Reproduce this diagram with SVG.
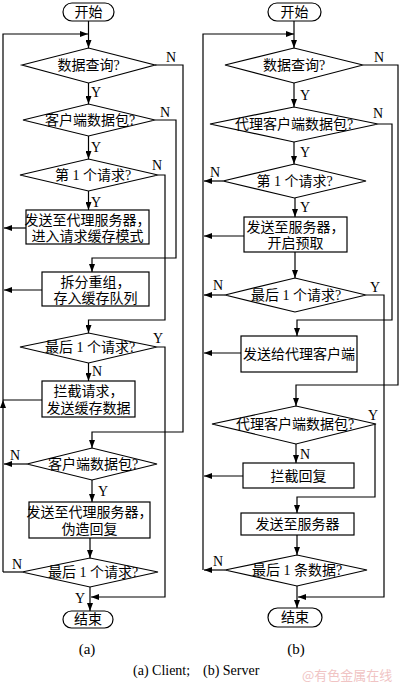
<svg xmlns="http://www.w3.org/2000/svg" width="400" height="683" viewBox="0 0 400 683">
<defs>
<marker id="ar" markerUnits="userSpaceOnUse" markerWidth="8" markerHeight="6" refX="8" refY="3" orient="auto"><path d="M0,0 L8,3 L0,6 z" fill="#000"/></marker>
<style>
.s{fill:#fff;stroke:#000;stroke-width:1.2}
.c{fill:none;stroke:#000;stroke-width:1.2}
.t{font-family:"Liberation Serif","Noto Sans CJK SC",serif;font-size:14px;fill:#000;text-anchor:middle}
.l{font-family:"Liberation Serif",serif;font-size:14px;fill:#000;text-anchor:middle}
</style>
</defs>
<rect width="400" height="683" fill="#fff"/>
<g id="connectors">
<!-- left (a) -->
<path class="c" d="M3,572 V400" marker-end="url(#ar)"/>
<path class="c" d="M3,400 V34 H88" marker-end="url(#ar)"/>
<path class="c" d="M88.5,21 V48" marker-end="url(#ar)"/>
<path class="c" d="M155,65 H183 V432 H92 V448" marker-end="url(#ar)"/>
<path class="c" d="M88.5,83 V104" marker-end="url(#ar)"/>
<path class="c" d="M155,120 H176 V258 H92 V272" marker-end="url(#ar)"/>
<path class="c" d="M88.5,136 V159" marker-end="url(#ar)"/>
<path class="c" d="M158,175 H165 V320 H88.5 V333" marker-end="url(#ar)"/>
<path class="c" d="M88.5,191 V210" marker-end="url(#ar)"/>
<path class="c" d="M26,228 H4" marker-end="url(#ar)"/>
<path class="c" d="M42,290 H4" marker-end="url(#ar)"/>
<path class="c" d="M157,347 H165 V597 H91" marker-end="url(#ar)"/>
<path class="c" d="M88.5,363 V381" marker-end="url(#ar)"/>
<path class="c" d="M42,400 H3"/>
<path class="c" d="M27,464 H4" marker-end="url(#ar)"/>
<path class="c" d="M92,480 V502" marker-end="url(#ar)"/>
<path class="c" d="M90,538 V558" marker-end="url(#ar)"/>
<path class="c" d="M22,572 H3"/>
<path class="c" d="M90,587 V611" marker-end="url(#ar)"/>
<!-- right (b) -->
<path class="c" d="M203,570 V34 H294" marker-end="url(#ar)"/>
<path class="c" d="M294,21 V48" marker-end="url(#ar)"/>
<path class="c" d="M363,65 H398 V385 H296 V406" marker-end="url(#ar)"/>
<path class="c" d="M294,83 V107" marker-end="url(#ar)"/>
<path class="c" d="M378,124 H392 V320 H297 V336" marker-end="url(#ar)"/>
<path class="c" d="M294,142 V164" marker-end="url(#ar)"/>
<path class="c" d="M223,181 H204" marker-end="url(#ar)"/>
<path class="c" d="M295,198 V217" marker-end="url(#ar)"/>
<path class="c" d="M244,236 H204" marker-end="url(#ar)"/>
<path class="c" d="M295,252 V278" marker-end="url(#ar)"/>
<path class="c" d="M225,295 H204" marker-end="url(#ar)"/>
<path class="c" d="M366,295 H384 V597 H298" marker-end="url(#ar)"/>
<path class="c" d="M241,353 H204" marker-end="url(#ar)"/>
<path class="c" d="M375,424 V497 H297 V513" marker-end="url(#ar)"/>
<path class="c" d="M296,444 V463" marker-end="url(#ar)"/>
<path class="c" d="M243,476 H204" marker-end="url(#ar)"/>
<path class="c" d="M297,535 V555" marker-end="url(#ar)"/>
<path class="c" d="M225,570 H204" marker-end="url(#ar)"/>
<path class="c" d="M297,586 V608" marker-end="url(#ar)"/>
</g>
<g id="labels">
<text class="l" x="171" y="62">N</text>
<text class="l" x="96" y="97">Y</text>
<text class="l" x="165" y="117">N</text>
<text class="l" x="96" y="152">Y</text>
<text class="l" x="157" y="170">N</text>
<text class="l" x="96" y="207">Y</text>
<text class="l" x="158" y="343">Y</text>
<text class="l" x="97" y="376">N</text>
<text class="l" x="15" y="460">N</text>
<text class="l" x="103" y="496">Y</text>
<text class="l" x="17" y="569">N</text>
<text class="l" x="80" y="603">Y</text>
<text class="l" x="379" y="62">N</text>
<text class="l" x="305" y="100">Y</text>
<text class="l" x="378" y="118">N</text>
<text class="l" x="305" y="157">Y</text>
<text class="l" x="215" y="177">N</text>
<text class="l" x="305" y="212">Y</text>
<text class="l" x="218" y="290">N</text>
<text class="l" x="375" y="292">Y</text>
<text class="l" x="373" y="420">Y</text>
<text class="l" x="305" y="459">N</text>
<text class="l" x="218" y="566">N</text>
</g>
<g id="a-start"><rect class="s" x="63" y="3" width="51" height="18" rx="9"/><text class="t" x="88.5" y="17">开始</text></g>
<g id="a-d1"><polygon class="s" points="22,65 88.5,48 155,65 88.5,83"/><text class="t" x="88.5" y="70">数据查询?</text></g>
<g id="a-d2"><polygon class="s" points="23,120 88.5,104 155,120 88.5,136"/><text class="t" x="90" y="125">客户端数据包?</text></g>
<g id="a-d3"><polygon class="s" points="20,175 88.5,159 158,175 88.5,191"/><text class="t" x="93" y="180">第 1 个请求?</text></g>
<g id="a-b1"><rect class="s" x="26" y="210" width="123" height="34"/><text class="t" x="87.5" y="225">发送至代理服务器，</text><text class="t" x="87.5" y="241">进入请求缓存模式</text></g>
<g id="a-b2"><rect class="s" x="42" y="272" width="107" height="34"/><text class="t" x="95.5" y="287">拆分重组，</text><text class="t" x="95.5" y="303">存入缓存队列</text></g>
<g id="a-d4"><polygon class="s" points="20,347 88.5,333 157,347 88.5,363"/><text class="t" x="90" y="352">最后 1 个请求?</text></g>
<g id="a-b3"><rect class="s" x="42" y="381" width="93" height="36"/><text class="t" x="88.5" y="396">拦截请求，</text><text class="t" x="88.5" y="413">发送缓存数据</text></g>
<g id="a-d5"><polygon class="s" points="27,464 92,448 157,464 92,480"/><text class="t" x="93" y="469">客户端数据包?</text></g>
<g id="a-b4"><rect class="s" x="29" y="502" width="121" height="36"/><text class="t" x="89.5" y="517">发送至代理服务器，</text><text class="t" x="89.5" y="534">伪造回复</text></g>
<g id="a-d6"><polygon class="s" points="22,572 90,558 158,572 90,587"/><text class="t" x="93" y="577">最后 1 个请求?</text></g>
<g id="a-end"><rect class="s" x="63" y="611" width="50" height="17" rx="8.5"/><text class="t" x="88" y="624">结束</text></g>
<g id="b-start"><rect class="s" x="268" y="3" width="53" height="18" rx="9"/><text class="t" x="294.5" y="17">开始</text></g>
<g id="b-d1"><polygon class="s" points="225,65 294,48 363,65 294,83"/><text class="t" x="294" y="70">数据查询?</text></g>
<g id="b-d2"><polygon class="s" points="210,124 294,107 378,124 294,142"/><text class="t" x="294" y="129">代理客户端数据包?</text></g>
<g id="b-d3"><polygon class="s" points="223,181 294.5,164 366,181 294.5,198"/><text class="t" x="294.5" y="186">第 1 个请求?</text></g>
<g id="b-b1"><rect class="s" x="244" y="217" width="103" height="35"/><text class="t" x="295.5" y="232">发送至服务器，</text><text class="t" x="295.5" y="248">开启预取</text></g>
<g id="b-d4"><polygon class="s" points="225,295 295,278 366,295 295,312"/><text class="t" x="296" y="300">最后 1 个请求?</text></g>
<g id="b-b2"><rect class="s" x="241" y="336" width="116" height="36"/><text class="t" x="299" y="359">发送给代理客户端</text></g>
<g id="b-d5"><polygon class="s" points="212,424 296,406 376,424 296,444"/><text class="t" x="295" y="429">代理客户端数据包?</text></g>
<g id="b-b3"><rect class="s" x="243" y="463" width="111" height="25"/><text class="t" x="298.5" y="481">拦截回复</text></g>
<g id="b-b4"><rect class="s" x="241" y="513" width="113" height="22"/><text class="t" x="297.5" y="529">发送至服务器</text></g>
<g id="b-d6"><polygon class="s" points="225,570 297,555 367,570 297,586"/><text class="t" x="297" y="575">最后 1 条数据?</text></g>
<g id="b-end"><rect class="s" x="268" y="608" width="54" height="19" rx="9.5"/><text class="t" x="295" y="622">结束</text></g>
<g id="captions">
<text class="l" x="87" y="654" style="font-size:15px">(a)</text>
<text class="l" x="296" y="654" style="font-size:15px">(b)</text>
<text x="133" y="675" style="font-family:'Liberation Serif',serif;font-size:14px">(a) Client;</text>
<text x="203" y="675" style="font-family:'Liberation Serif',serif;font-size:14px">(b) Server</text>
<text x="302" y="680" style="font-family:'Noto Sans CJK SC',sans-serif;font-size:13px;fill:#f0c4c4">@有色金属在线</text>
</g>
</svg>
